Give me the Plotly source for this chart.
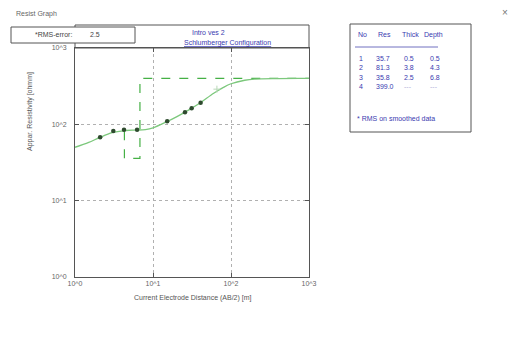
import plotly.graph_objects as go

# ---- data ----
ab2_obs = [2.1, 3.1, 4.25, 6.25, 15.2, 25.7, 31.3, 40.8]
rho_obs = [67.7, 81.6, 85.0, 85.0, 110.0, 144.0, 162.0, 192.0]
ab2_masked = [66.0]
rho_masked = [289.0]

ab2_calc = [1, 1.5, 2, 3, 4.5, 6, 8, 10, 15, 20, 30, 40, 60, 80, 100, 150, 200, 400, 1000]
rho_calc = [50, 58, 66, 78, 83, 84, 85.5, 90, 108, 125, 158, 190, 255, 305, 340, 378, 392, 398, 399]

layer_no = [1, 2, 3, 4]
layer_res = [35.7, 81.3, 35.8, 399.0]
layer_thick = ["0.5", "3.8", "2.5", "---"]
layer_depth = ["0.5", "4.3", "6.8", "---"]

x_ticks = [1, 10, 100, 1000]
x_tick_text = ["10^0", "10^1", "10^2", "10^3"]
y_ticks = [1, 10, 100, 1000]
y_tick_text = ["10^0", "10^1", "10^2", "10^3"]
rms_error = 2.5

# model step curve built from layer data (drawn from the first visible layer boundary)
depths = [float(d) for d in layer_depth[:-1]]
step_x, step_y = [], []
for i in range(1, len(layer_res)):
    top = depths[i - 1]
    bot = depths[i] if i < len(depths) else 1000.0
    if i == 1:
        step_x.append(depths[1]); step_y.append(layer_res[1])
        continue
    step_x += [top, bot]
    step_y += [layer_res[i], layer_res[i]]

# page-pixel layout (the html body adds an 8px offset)
OFF = 8
W, H = 519 - OFF, 363 - OFF
L, R, T, B = 75, 309, 48, 277
def px(p): return (p - L) / (R - L)
def py(p): return (B - p) / (B - T)

FONT = "Liberation Sans, Arial, sans-serif"
fig = go.Figure()
fig.add_trace(go.Scatter(x=step_x, y=step_y, mode="lines",
                         line=dict(color="#45b045", width=1.2, dash="dash"),
                         showlegend=False, hoverinfo="skip"))
fig.add_trace(go.Scatter(x=ab2_calc, y=rho_calc, mode="lines", line_shape="spline",
                         line=dict(color="#7cc87c", width=1.3), showlegend=False))
fig.add_trace(go.Scatter(x=ab2_obs, y=rho_obs, mode="markers",
                         marker=dict(color="#2e4a2e", size=4.5, symbol="circle"),
                         showlegend=False))
fig.add_trace(go.Scatter(x=ab2_masked, y=rho_masked, mode="markers",
                         marker=dict(color="#b8d8b8", size=5, symbol="cross-thin",
                                     line=dict(color="#b8d8b8", width=1)),
                         showlegend=False))

axis_common = dict(type="log", showline=True, linecolor="#555555", linewidth=1, mirror="ticks",
                   ticks="inside", ticklen=4, tickcolor="#555555",
                   showgrid=True, gridcolor="#b0b0b0", griddash="dot", gridwidth=1,
                   zeroline=False, tickfont=dict(size=7, color="#666666", family=FONT))
fig.update_xaxes(range=[0, 3], tickvals=x_ticks, ticktext=x_tick_text, **axis_common)
fig.update_yaxes(range=[0, 3], tickvals=y_ticks, ticktext=y_tick_text,
                 ticklabelstandoff=6, **axis_common)

shapes = []
ann = []
def text(x, y, s, size=7, color="#444444", xanchor="left", angle=0):
    ann.append(dict(x=px(x), y=py(y), xref="paper", yref="paper", text=s, showarrow=False,
                    xanchor=xanchor, yanchor="middle", textangle=angle,
                    font=dict(size=size, color=color, family=FONT)))
def rect(x0, y0, x1, y1, color="#555555", width=1, fill=None):
    shapes.append(dict(type="rect", xref="paper", yref="paper", x0=px(x0), x1=px(x1),
                       y0=py(y1), y1=py(y0), line=dict(color=color, width=width),
                       fillcolor=fill if fill else "rgba(0,0,0,0)"))
def line(x0, y0, x1, y1, color="#555555", width=1):
    shapes.append(dict(type="line", xref="paper", yref="paper", x0=px(x0), x1=px(x1),
                       y0=py(y0), y1=py(y1), line=dict(color=color, width=width)))

# window chrome
text(14, 14, "Resist Graph", size=7, color="#666666")
text(505, 13, "×", size=10, color="#777777", xanchor="center")

# title box
rect(75, 25, 309, 48)
text(208, 33, "Intro ves 2", size=7, color="#3a3ab0", xanchor="center")
text(227, 43, "<u>Schlumberger Configuration</u>", size=7, color="#3a3ab0", xanchor="center")

# RMS box
rect(11, 27, 135, 43, fill="white")
text(33, 35, "*RMS-error:", size=7, color="#444444")
text(88, 35, f"{rms_error}", size=7, color="#444444")

# axis titles
text(30, 112, "Appar. Resistivity [ohmm]", size=7, color="#555555", xanchor="center", angle=-90)
text(193, 298, "Current Electrode Distance (AB/2) [m]", size=7, color="#555555", xanchor="center")

# layer table
rect(350, 24, 471, 132)
blue = "#3a3ab0"
cols = [356, 376, 400, 422]
heads = ["No", "Res", "Thick", "Depth"]
for c, h in zip(cols, heads):
    text(c, 35, h, color=blue)
line(355, 47, 438, 47, color="#7070c0")
for i, (n, r, t, d) in enumerate(zip(layer_no, layer_res, layer_thick, layer_depth)):
    yy = 58 + i * 9.5
    lc = blue if t != "---" else "#b0b0d8"
    text(cols[0] + 1, yy, str(n), color=blue)
    text(cols[1] - 2, yy, f"{r:.1f}", color=blue)
    text(cols[2] + 2, yy, t, color=lc)
    text(cols[3] + 6, yy, d, color=lc)
text(355, 118, "* RMS on smoothed data", color=blue)

fig.update_layout(width=W, height=H,
                  margin=dict(l=L - OFF, r=W - (R - OFF), t=T - OFF, b=H - (B - OFF)),
                  paper_bgcolor="white", plot_bgcolor="white",
                  shapes=shapes, annotations=ann, showlegend=False)
fig.write_html("out.html")
